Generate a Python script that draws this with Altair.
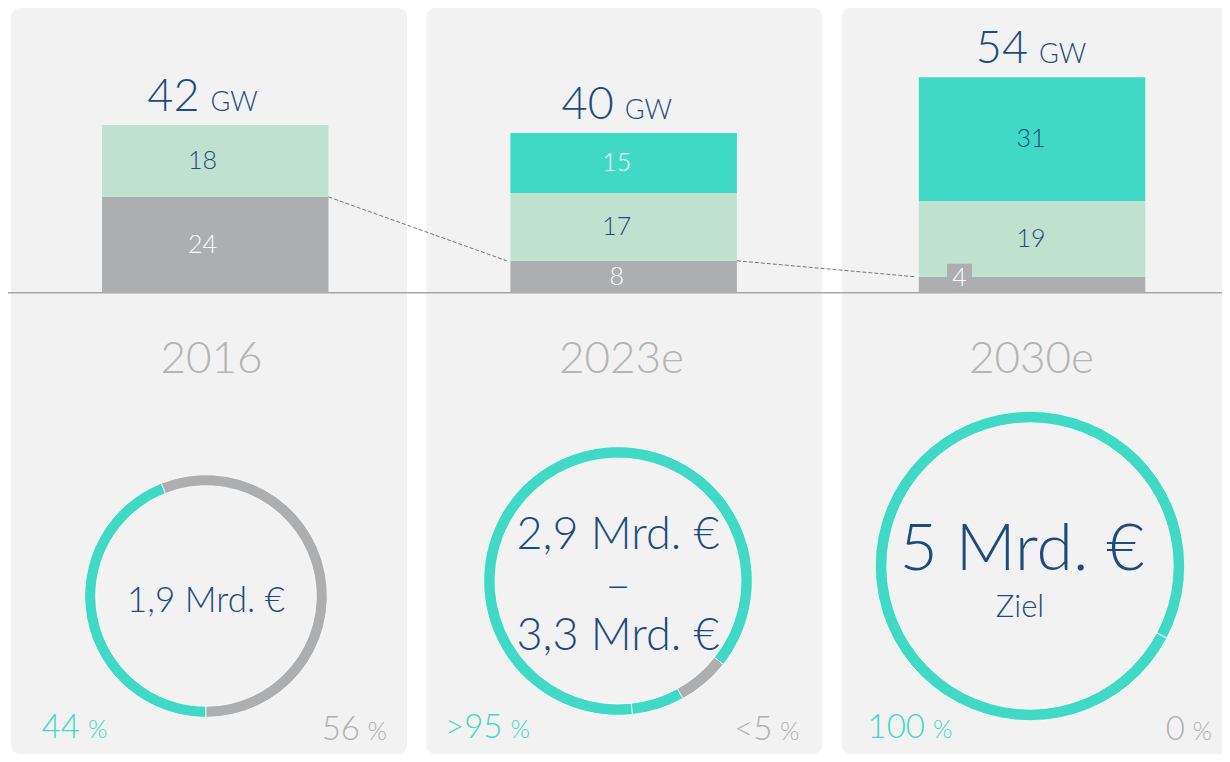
import math
import altair as alt
import pandas as pd

# ---------------- data ----------------
YEARS = ["2016", "2023e", "2030e"]
SEGMENTS = ["grau", "hellgruen", "tuerkis"]

CAP_YEAR = ["2016", "2016", "2023e", "2023e", "2023e", "2030e", "2030e", "2030e"]
CAP_SEG = ["grau", "hellgruen", "grau", "hellgruen", "tuerkis", "grau", "hellgruen", "tuerkis"]
CAP_GW = [24, 18, 8, 17, 15, 4, 19, 31]
UNIT = "GW"

RING_YEAR = ["2016", "2016", "2023e", "2023e", "2023e", "2030e", "2030e"]
RING_SEG = ["tuerkis", "grau", "tuerkis", "grau", "tuerkis", "tuerkis", "grau"]
RING_SHARE = [44, 56, 87.4, 6.3, 6.3, 100, 0]

CENTER_TEXT = ["1,9 Mrd. €", "2,9 Mrd. €\n–\n3,3 Mrd. €", "5 Mrd. €"]
SUB_TEXT = ["", "", "Ziel"]
LEFT_PCT = ["44", ">95", "100"]
RIGHT_PCT = ["56", "<5", "0"]
BASE = [0]

# ---------------- styles ----------------
FONT = "Lato"
FW = 300
DARK = "#1F4A7E"
TEAL = "#40D9C5"
LIGHT = "#C0E1CF"
GRAY = "#ADAEB0"
BG = "#F2F2F2"
YEAR_GRAY = "#B4B4B4"
PCT_GRAY = "#B0B0B0"
W, H = 1214, 746

cap = pd.DataFrame({"year": CAP_YEAR, "seg": CAP_SEG, "gw": CAP_GW})
cap["order"] = cap["seg"].map(SEGMENTS.index)

ring = pd.DataFrame({"year": RING_YEAR, "seg": RING_SEG, "share": RING_SHARE})
ring["order"] = ring.groupby("year").cumcount()

years_df = pd.DataFrame({
    "year": YEARS, "center": CENTER_TEXT, "sub": SUB_TEXT,
    "left": LEFT_PCT, "right": RIGHT_PCT,
})
base_df = pd.DataFrame({"v": BASE})

# ---------------- scales ----------------
X_BG = alt.Scale(type="band", domain=YEARS, range=[3, 1229.7], paddingInner=0.0466, paddingOuter=0)
X_BAR = alt.Scale(type="band", domain=YEARS, range=[94, 1137.3], paddingInner=0.4455, paddingOuter=0)
X_LBL = alt.Scale(type="point", domain=YEARS, range=[194.5, 1023], padding=0)
X_YEAR = alt.Scale(type="point", domain=YEARS, range=[203.5, 1023.5], padding=0)
X_RING = alt.Scale(type="point", domain=YEARS, range=[198, 1022], padding=0)
Y_RING = alt.Scale(type="point", domain=YEARS, range=[588, 558], padding=0)
X_PL = alt.Scale(type="point", domain=YEARS, range=[72, 917], padding=0)
X_PR = alt.Scale(type="point", domain=YEARS, range=[379, 1204], padding=0)
Y_CAP = alt.Scale(domain=[0, 71.35], range=[284.7, 0])
COLOR = alt.Scale(domain=SEGMENTS, range=[GRAY, LIGHT, TEAL])

stacked = alt.Chart(cap).transform_window(
    end="sum(gw)", groupby=["year"], sort=[alt.SortField("order")]
).transform_calculate(
    start="datum.end - datum.gw", mid="datum.end - datum.gw / 2"
)

bg = alt.Chart(years_df).mark_rect(color=BG, cornerRadius=9).encode(
    x=alt.X("year:N", scale=X_BG, axis=None)
)

baseline = alt.Chart(base_df).mark_rule(color="#A6A6A6", strokeWidth=1.5).encode(
    y=alt.Y("v:Q", scale=Y_CAP, axis=None)
)

bars = stacked.mark_bar().encode(
    x=alt.X("year:N", scale=X_BAR, axis=None),
    y=alt.Y("start:Q", scale=Y_CAP, axis=None),
    y2="end:Q",
    color=alt.Color("seg:N", scale=COLOR, legend=None),
)

connectors = stacked.transform_filter(alt.datum.seg == "grau").transform_window(
    next_year="lead(year)", next_end="lead(end)", sort=[alt.SortField("year")]
).transform_filter("datum.next_year != null").mark_rule(
    strokeDash=[4, 2], color="#555555", strokeWidth=0.8, xOffset=113.25, x2Offset=-117
).encode(
    x=alt.X("year:N", scale=X_BAR, axis=None),
    x2="next_year:N",
    y=alt.Y("end:Q", scale=Y_CAP, axis=None),
    y2="next_end:Q",
)

label_color = alt.when(
    (alt.datum.seg == "grau") | ((alt.datum.seg == "tuerkis") & (alt.datum.year == "2023e"))
).then(alt.value("white")).otherwise(alt.value(DARK))

bar_labels = stacked.transform_filter("datum.gw >= 5").mark_text(
    font=FONT, fontWeight=FW, fontSize=25, baseline="middle"
).encode(
    x=alt.X("year:N", scale=X_LBL, axis=None),
    y=alt.Y("mid:Q", scale=Y_CAP, axis=None),
    text=alt.Text("gw:Q", format="d"),
    color=label_color,
)

small_box = stacked.transform_filter("datum.gw < 5").mark_bar(
    color=GRAY, width=25, xOffset=-71.5, y2Offset=-13
).encode(
    x=alt.X("year:N", scale=X_LBL, axis=None),
    y=alt.Y("start:Q", scale=Y_CAP, axis=None),
    y2="end:Q",
)

small_label = stacked.transform_filter("datum.gw < 5").mark_text(
    font=FONT, fontWeight=FW, fontSize=25, baseline="middle", color="white", dx=-71.5, dy=-6.5
).encode(
    x=alt.X("year:N", scale=X_LBL, axis=None),
    y=alt.Y("mid:Q", scale=Y_CAP, axis=None),
    text=alt.Text("gw:Q", format="d"),
)

totals_base = alt.Chart(cap).transform_aggregate(total="sum(gw)", groupby=["year"])
totals = totals_base.mark_text(
    font=FONT, fontWeight=FW, fontSize=45, color=DARK, align="right", baseline="alphabetic", dx=-3, dy=-14
).encode(
    x=alt.X("year:N", scale=X_LBL, axis=None),
    y=alt.Y("total:Q", scale=Y_CAP, axis=None),
    text=alt.Text("total:Q", format="d"),
)
units = totals_base.mark_text(
    font=FONT, fontWeight=FW, fontSize=27, color=DARK, align="left", baseline="alphabetic", dx=8, dy=-14
).encode(
    x=alt.X("year:N", scale=X_LBL, axis=None),
    y=alt.Y("total:Q", scale=Y_CAP, axis=None),
    text=alt.value(UNIT),
)

year_labels = alt.Chart(years_df).mark_text(
    font=FONT, fontWeight=FW, fontSize=44, color=YEAR_GRAY, baseline="alphabetic"
).encode(
    x=alt.X("year:N", scale=X_YEAR, axis=None),
    y=alt.value(365),
    text="year:N",
)

ring_base = alt.Chart(ring).transform_window(
    end="sum(share)", groupby=["year"], sort=[alt.SortField("order")]
).transform_calculate(start="datum.end - datum.share")

RING_STYLE = {"2016": (180.0, 121.3, 110.3), "2023e": (173.8, 134.3, 123.0), "2030e": (117.8, 154.7, 143.2)}
ring_layers = []
for yr in YEARS:
    a0, r_out, r_in = RING_STYLE[yr]
    a = math.radians(a0)
    ring_layers.append(
        ring_base.transform_filter(alt.datum.year == yr).mark_arc(
            radius=r_out, radius2=r_in, stroke="white", strokeWidth=0.8
        ).encode(
            x=alt.X("year:N", scale=X_RING, axis=None),
            y=alt.Y("year:N", scale=Y_RING, axis=None),
            theta=alt.Theta("start:Q", scale=alt.Scale(domain=[0, 100], range=[a, a + 2 * math.pi])),
            theta2="end:Q",
            color=alt.Color("seg:N", scale=COLOR, legend=None),
        )
    )

CENTER_STYLE = {"2016": (35, 0, 16), "2023e": (45, 0, -32), "2030e": (66, -8, 4)}
center_layers = []
for yr in YEARS:
    fs, dx, dy = CENTER_STYLE[yr]
    center_layers.append(
        alt.Chart(years_df).transform_filter(alt.datum.year == yr).mark_text(
            font=FONT, fontWeight=FW, fontSize=fs, color=DARK, baseline="alphabetic", dx=dx, dy=dy,
            lineBreak="\n", lineHeight=50.5,
        ).encode(
            x=alt.X("year:N", scale=X_RING, axis=None),
            y=alt.Y("year:N", scale=Y_RING, axis=None),
            text="center:N",
        )
    )

sub_text = alt.Chart(years_df).transform_filter("datum.sub != ''").mark_text(
    font=FONT, fontWeight=FW, fontSize=31, color=DARK, baseline="alphabetic", dx=-10, dy=51
).encode(
    x=alt.X("year:N", scale=X_RING, axis=None),
    y=alt.Y("year:N", scale=Y_RING, axis=None),
    text="sub:N",
)

left_num = alt.Chart(years_df).mark_text(
    font=FONT, fontWeight=FW, fontSize=33, color=TEAL, align="right", baseline="alphabetic"
).encode(x=alt.X("year:N", scale=X_PL, axis=None), y=alt.value(730), text="left:N")
left_pct = alt.Chart(years_df).mark_text(
    font=FONT, fontWeight=FW, fontSize=25, color=TEAL, align="left", baseline="alphabetic", dx=8
).encode(x=alt.X("year:N", scale=X_PL, axis=None), y=alt.value(730), text=alt.value("%"))
right_num = alt.Chart(years_df).mark_text(
    font=FONT, fontWeight=FW, fontSize=33, color=PCT_GRAY, align="right", baseline="alphabetic", dx=-27
).encode(x=alt.X("year:N", scale=X_PR, axis=None), y=alt.value(732), text="right:N")
right_pct = alt.Chart(years_df).mark_text(
    font=FONT, fontWeight=FW, fontSize=25, color=PCT_GRAY, align="right", baseline="alphabetic"
).encode(x=alt.X("year:N", scale=X_PR, axis=None), y=alt.value(732), text=alt.value("%"))

chart = alt.layer(
    bg, baseline, bars, connectors, bar_labels, small_box, small_label, totals, units,
    year_labels, *ring_layers, *center_layers, sub_text, left_num, left_pct, right_num, right_pct,
).resolve_scale(
    x="independent", y="independent", theta="independent"
).properties(
    width=W, height=H, padding=0, autosize="none", background="white"
).configure_view(stroke=None)

chart.save("out.html", embed_options={"renderer": "svg", "actions": False})
